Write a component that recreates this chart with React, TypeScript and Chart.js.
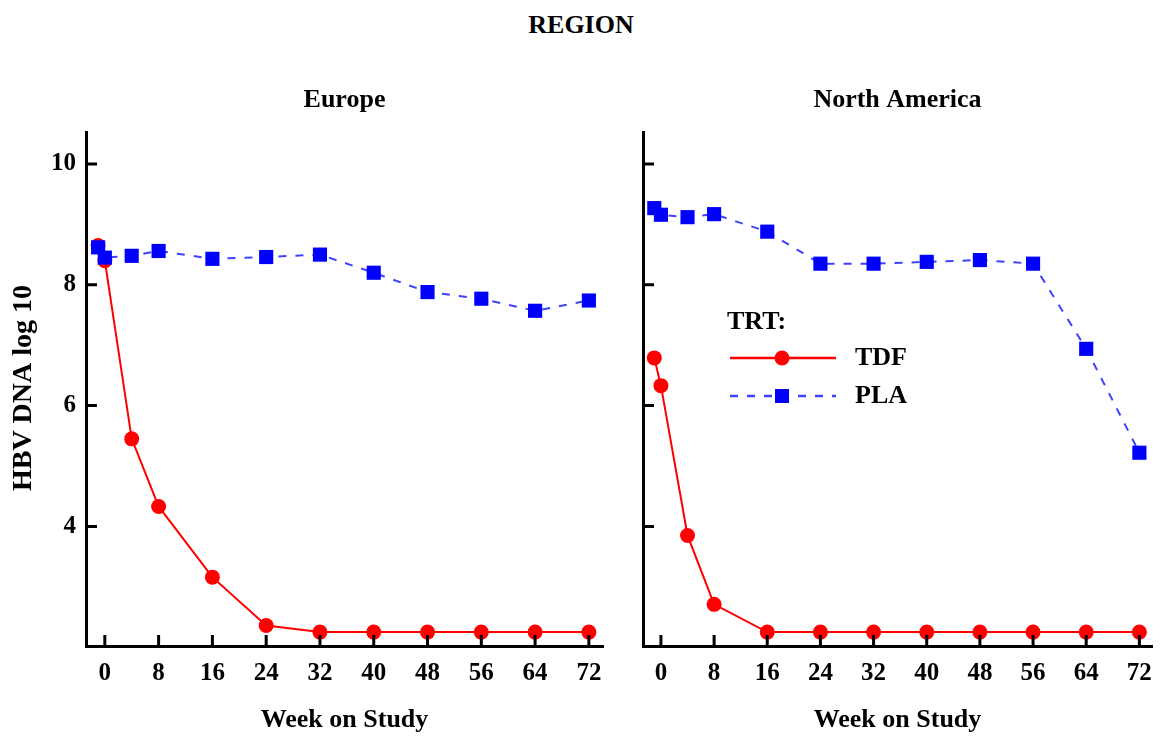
import React, { useEffect, useRef } from "react";
import { Chart, registerables } from "chart.js";
Chart.register(...registerables);

// ---- data ----
const weeks = [-1, 0, 4, 8, 16, 24, 32, 40, 48, 56, 64, 72];
const europeTDF = [8.65, 8.4, 5.45, 4.33, 3.16, 2.36, 2.25, 2.25, 2.25, 2.25, 2.25, 2.25];
const europePLA = [8.62, 8.45, 8.48, 8.56, 8.43, 8.46, 8.5, 8.2, 7.88, 7.77, 7.57, 7.74];
const naTDF = [6.79, 6.33, 3.85, 2.71, 2.25, 2.25, 2.25, 2.25, 2.25, 2.25, 2.25, 2.25];
const naPLA = [9.27, 9.16, 9.12, 9.17, 8.88, 8.35, 8.35, 8.38, 8.41, 8.35, 6.94, 5.22];
const xTickValues = [0, 8, 16, 24, 32, 40, 48, 56, 64, 72];
const yTickValues = [4, 6, 8, 10];
const panelTitles = ["Europe", "North America"];
const seriesNames = ["TDF", "PLA"];
const legendTitle = "TRT:";
const mainTitle = "REGION";
const xTitle = "Week on Study";
const yTitle = "HBV DNA log 10";

const FONT = '"Liberation Serif", "Times New Roman", serif';
const TDF_COLOR = "#ff0000";
const PLA_COLOR = "#0000ff";
const PLA_LINE = "rgba(30,30,255,0.85)";
const DASH = [8, 9];

type PanelProps = {
  title: string;
  tdf: number[];
  pla: number[];
  yLabels: boolean;
  showYTitle: boolean;
  showLegend: boolean;
  left: number;
  width: number;
  yAxisWidth: number;
  padRight: number;
  xMin: number;
  xMax: number;
};

function Panel(p: PanelProps) {
  const ref = useRef<HTMLCanvasElement>(null);
  const height = 677;
  const top = 60;

  useEffect(() => {
    const textPlugin = {
      id: "panelText",
      afterDraw(chart: any) {
        const { ctx, chartArea, scales } = chart;
        const { left, right, top: ctop, bottom } = chartArea;
        ctx.save();
        // inward tick marks
        ctx.strokeStyle = "#000";
        ctx.lineWidth = 3;
        ctx.setLineDash([]);
        ctx.beginPath();
        for (const v of xTickValues) {
          const px = scales.x.getPixelForValue(v);
          ctx.moveTo(px, bottom);
          ctx.lineTo(px, bottom - 11);
        }
        for (const v of yTickValues) {
          const py = scales.y.getPixelForValue(v);
          ctx.moveTo(left, py);
          ctx.lineTo(left + 11, py);
        }
        ctx.stroke();

        ctx.fillStyle = "#000";
        ctx.font = `bold 26px ${FONT}`;
        ctx.textAlign = "center";
        ctx.textBaseline = "middle";
        const cx = (left + right) / 2;
        ctx.fillText(p.title, cx, ctop - 32);
        ctx.fillText(xTitle, cx, bottom + 74);

        if (p.showYTitle) {
          ctx.save();
          ctx.font = `bold 28px ${FONT}`;
          ctx.translate(24, 328);
          ctx.rotate(-Math.PI / 2);
          ctx.fillText(yTitle, 0, 0);
          ctx.restore();
        }

        if (p.showLegend) {
          const lx0 = 120, lx1 = 226, mx = 172, tx = 245;
          const y1 = 298, y2 = 336;
          ctx.textAlign = "left";
          ctx.fillText(legendTitle, 117, 262);
          // TDF
          ctx.strokeStyle = TDF_COLOR;
          ctx.lineWidth = 2.5;
          ctx.beginPath();
          ctx.moveTo(lx0, y1);
          ctx.lineTo(lx1, y1);
          ctx.stroke();
          ctx.fillStyle = TDF_COLOR;
          ctx.beginPath();
          ctx.arc(mx, y1, 7.5, 0, Math.PI * 2);
          ctx.fill();
          // PLA
          ctx.strokeStyle = PLA_LINE;
          ctx.lineWidth = 2.5;
          ctx.setLineDash(DASH);
          ctx.beginPath();
          ctx.moveTo(lx0, y2);
          ctx.lineTo(lx1, y2);
          ctx.stroke();
          ctx.setLineDash([]);
          ctx.fillStyle = PLA_COLOR;
          ctx.fillRect(mx - 7, y2 - 7, 14, 14);
          ctx.fillStyle = "#000";
          ctx.fillText(seriesNames[0], tx, y1);
          ctx.fillText(seriesNames[1], tx, y2);
        }
        ctx.restore();
      },
    };

    const tickFont = { family: FONT, size: 25, weight: "bold" as const };
    const chart = new Chart(ref.current!, {
      type: "line",
      data: {
        datasets: [
          {
            label: seriesNames[1],
            data: weeks.map((w, i) => ({ x: w, y: p.pla[i] })),
            borderColor: PLA_LINE,
            borderDash: DASH,
            borderWidth: 2,
            pointStyle: "rect",
            pointRadius: 10,
            pointHoverRadius: 10,
            pointBackgroundColor: PLA_COLOR,
            pointBorderColor: PLA_COLOR,
            pointBorderWidth: 0,
            tension: 0,
          },
          {
            label: seriesNames[0],
            data: weeks.map((w, i) => ({ x: w, y: p.tdf[i] })),
            borderColor: TDF_COLOR,
            borderWidth: 2,
            pointStyle: "circle",
            pointRadius: 7.5,
            pointHoverRadius: 7.5,
            pointBackgroundColor: TDF_COLOR,
            pointBorderColor: TDF_COLOR,
            pointBorderWidth: 0,
            tension: 0,
          },
        ],
      },
      options: {
        responsive: false,
        animation: false,
        devicePixelRatio: 1,
        events: [],
        layout: { padding: { top: 72, right: p.padRight, left: 0, bottom: 0 } },
        plugins: {
          legend: { display: false },
          title: { display: false },
          tooltip: { enabled: false },
        },
        scales: {
          x: {
            type: "linear",
            min: p.xMin,
            max: p.xMax,
            afterBuildTicks: (s: any) => {
              s.ticks = xTickValues.map((v) => ({ value: v }));
            },
            afterFit: (s: any) => {
              s.height = 91;
              s.paddingLeft = 0;
              s.paddingRight = 0;
            },
            grid: { drawOnChartArea: false, drawTicks: false },
            border: { display: true, color: "#000", width: 3 },
            ticks: {
              font: tickFont,
              color: "#000",
              padding: 13,
              maxRotation: 0,
              autoSkip: false,
            },
          },
          y: {
            type: "linear",
            min: 2.02,
            max: 10.53,
            afterBuildTicks: (s: any) => {
              s.ticks = yTickValues.map((v) => ({ value: v }));
            },
            afterFit: (s: any) => {
              s.width = p.yAxisWidth;
              s.paddingTop = 0;
              s.paddingBottom = 0;
            },
            grid: { drawOnChartArea: false, drawTicks: false },
            border: { display: true, color: "#000", width: 3 },
            ticks: {
              display: p.yLabels,
              font: tickFont,
              color: "#000",
              padding: 10,
              autoSkip: false,
            },
          },
        },
      },
      plugins: [textPlugin],
    } as any);
    return () => chart.destroy();
  }, []);

  return (
    <canvas
      ref={ref}
      width={p.width}
      height={height}
      style={{ position: "absolute", left: p.left, top, width: p.width, height }}
    />
  );
}

export default function App() {
  return (
    <div style={{ position: "absolute", left: 0, top: 0, width: 1162, height: 737, background: "#fff", overflow: "hidden" }}>
      <div
        style={{
          position: "absolute",
          left: 0,
          top: 10,
          width: 1162,
          textAlign: "center",
          font: `bold 26px ${FONT}`,
          lineHeight: "30px",
          color: "#000",
        }}
      >
        {mainTitle}
      </div>
      <Panel
        title={panelTitles[0]}
        tdf={europeTDF}
        pla={europePLA}
        yLabels={true}
        showYTitle={true}
        showLegend={false}
        left={0}
        width={620}
        yAxisWidth={86}
        padRight={17}
        xMin={-2.8}
        xMax={74.1}
      />
      <Panel
        title={panelTitles[1]}
        tdf={naTDF}
        pla={naPLA}
        yLabels={false}
        showYTitle={false}
        showLegend={true}
        left={610}
        width={552}
        yAxisWidth={33}
        padRight={4}
        xMin={-2.7}
        xMax={73.9}
      />
    </div>
  );
}
